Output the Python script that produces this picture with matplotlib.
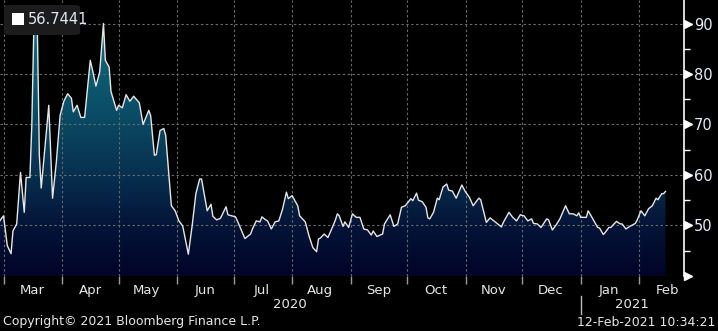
import numpy as np
import pandas as pd
import matplotlib
matplotlib.use("Agg")
import matplotlib.pyplot as plt
import matplotlib.dates as mdates
import matplotlib.transforms as mtrans
from matplotlib.colors import LinearSegmentedColormap
from matplotlib.patches import FancyBboxPatch, Rectangle

# values (vertices of the line)
dates = [
    "2020-02-28", "2020-03-01", "2020-03-03", "2020-03-05", "2020-03-06", "2020-03-08",
    "2020-03-10", "2020-03-12", "2020-03-13", "2020-03-15", "2020-03-16", "2020-03-17",
    "2020-03-18", "2020-03-19", "2020-03-20", "2020-03-21", "2020-03-25", "2020-03-27",
    "2020-03-29", "2020-03-31", "2020-04-02", "2020-04-04", "2020-04-06", "2020-04-07",
    "2020-04-09", "2020-04-11", "2020-04-13", "2020-04-14", "2020-04-16", "2020-04-17",
    "2020-04-19", "2020-04-21", "2020-04-23", "2020-04-24", "2020-04-26", "2020-04-27",
    "2020-04-30", "2020-05-01", "2020-05-03", "2020-05-05", "2020-05-07", "2020-05-09",
    "2020-05-12", "2020-05-14", "2020-05-17", "2020-05-18", "2020-05-20", "2020-05-21",
    "2020-05-23", "2020-05-25", "2020-05-26", "2020-05-29", "2020-05-31", "2020-06-02",
    "2020-06-04", "2020-06-07", "2020-06-09", "2020-06-11", "2020-06-13", "2020-06-14",
    "2020-06-17", "2020-06-19", "2020-06-20", "2020-06-22", "2020-06-24", "2020-06-27",
    "2020-06-28", "2020-07-02", "2020-07-03", "2020-07-07", "2020-07-10", "2020-07-11",
    "2020-07-13", "2020-07-15", "2020-07-16", "2020-07-18", "2020-07-19", "2020-07-21",
    "2020-07-23", "2020-07-25", "2020-07-27", "2020-07-29", "2020-07-30", "2020-08-01",
    "2020-08-04", "2020-08-05", "2020-08-08", "2020-08-10", "2020-08-12", "2020-08-14",
    "2020-08-15", "2020-08-16", "2020-08-18", "2020-08-20", "2020-08-22", "2020-08-24",
    "2020-08-25", "2020-08-26", "2020-08-28", "2020-08-29", "2020-08-31", "2020-09-02",
    "2020-09-04", "2020-09-06", "2020-09-08", "2020-09-10", "2020-09-12", "2020-09-13",
    "2020-09-15", "2020-09-18", "2020-09-19", "2020-09-22", "2020-09-24", "2020-09-26",
    "2020-09-28", "2020-09-30", "2020-10-03", "2020-10-04", "2020-10-06", "2020-10-07",
    "2020-10-09", "2020-10-11", "2020-10-12", "2020-10-13", "2020-10-15", "2020-10-17",
    "2020-10-18", "2020-10-20", "2020-10-22", "2020-10-23", "2020-10-25", "2020-10-27",
    "2020-10-30", "2020-11-01", "2020-11-03", "2020-11-05", "2020-11-08", "2020-11-09",
    "2020-11-12", "2020-11-14", "2020-11-17", "2020-11-20", "2020-11-21", "2020-11-24",
    "2020-11-26", "2020-11-28", "2020-11-30", "2020-12-02", "2020-12-04", "2020-12-06",
    "2020-12-07", "2020-12-09", "2020-12-11", "2020-12-14", "2020-12-15", "2020-12-17",
    "2020-12-19", "2020-12-21", "2020-12-24", "2020-12-26", "2020-12-28", "2020-12-30",
    "2020-12-31", "2021-01-01", "2021-01-04", "2021-01-05", "2021-01-07", "2021-01-10",
    "2021-01-11", "2021-01-13", "2021-01-14", "2021-01-16", "2021-01-17", "2021-01-20",
    "2021-01-22", "2021-01-23", "2021-01-25", "2021-01-27", "2021-01-30", "2021-01-31",
    "2021-02-02", "2021-02-04", "2021-02-06", "2021-02-08", "2021-02-10", "2021-02-11",
    "2021-02-13", "2021-02-14", "2021-02-15",
]
values = [
    50.9, 51.9, 46.0, 44.4, 48.9, 50.3,
    60.5, 52.6, 59.5, 59.5, 69.8, 87.7,
    89.7, 87.7, 63.9, 57.4, 73.8, 55.4,
    62.5, 71.8, 74.6, 76.1, 75.2, 72.5,
    73.8, 71.4, 71.4, 75.1, 82.7, 81.1,
    77.6, 80.4, 90.0, 82.7, 81.4, 76.5,
    72.8, 73.8, 73.3, 75.9, 74.6, 75.6,
    74.3, 70.0, 72.8, 71.8, 63.9, 64.0,
    68.8, 69.2, 67.8, 53.9, 52.9, 50.9,
    49.9, 44.3, 49.9, 56.3, 59.2, 59.2,
    52.9, 54.2, 51.8, 51.1, 51.4, 53.7,
    52.1, 51.7, 50.9, 47.4, 48.3, 49.3,
    50.9, 50.7, 51.7, 51.1, 50.9, 49.3,
    50.7, 50.9, 53.3, 56.6, 55.3, 55.9,
    53.9, 51.9, 50.7, 47.9, 45.6, 44.8,
    47.3, 47.5, 48.3, 47.6, 49.3, 51.1,
    52.3, 51.9, 49.8, 50.7, 49.6, 52.3,
    51.6, 51.6, 49.3, 49.1, 48.1, 48.9,
    47.8, 48.3, 50.3, 52.1, 49.8, 50.3,
    53.6, 53.9, 55.3, 54.9, 56.4, 55.0,
    54.7, 53.6, 51.5, 51.3, 52.6, 55.4,
    55.1, 57.6, 58.2, 57.0, 56.8, 55.4,
    58.0, 56.6, 55.6, 53.9, 55.4, 55.1,
    50.6, 51.5, 50.6, 49.7, 50.6, 52.6,
    51.6, 50.9, 52.1, 51.9, 50.9, 51.3,
    50.4, 50.3, 49.6, 51.3, 51.1, 49.1,
    50.1, 51.3, 53.9, 52.3, 52.3, 51.9,
    52.5, 51.6, 51.6, 52.9, 51.6, 49.6,
    49.5, 48.2, 48.6, 49.6, 49.6, 50.8,
    50.3, 50.3, 49.3, 49.8, 50.4, 51.1,
    52.9, 51.9, 53.3, 53.9, 55.4, 55.1,
    56.3, 56.3, 56.7441,
]
month_labels = ["Mar", "Apr", "May", "Jun", "Jul", "Aug", "Sep", "Oct", "Nov", "Dec", "Jan", "Feb"]
month_starts = pd.date_range("2020-03-01", "2021-02-01", freq="MS")
years = ["2020", "2021"]
y_major = [40, 50, 60, 70, 80, 90]
y_minor = [45, 55, 65, 75, 85]
last_label = "56.7441"
copyright_text = "Copyright\u00a9 2021 Bloomberg Finance L.P."
stamp_text = "12-Feb-2021 10:34:21"

NARROW = ["Liberation Sans Narrow", "DejaVu Sans"]
plt.rcParams["font.family"] = ["DejaVu Sans"]

W, H = 718, 331
fig = plt.figure(figsize=(W / 100, H / 100), dpi=100, facecolor="black")
ax = fig.add_axes([0, 1 - 275.9 / H, 684 / W, 275.9 / H])
ax.set_facecolor("black")

x = mdates.date2num(pd.to_datetime(dates))
y = np.array(values)
x0 = mdates.date2num(pd.Timestamp("2020-03-01")) - 1.86
x1 = mdates.date2num(pd.Timestamp("2020-03-01")) + 360.8
ymin, ymax = 40, 94.66
ax.set_xlim(x0, x1)
ax.set_ylim(ymin, ymax)

# gradient area fill
cmap = LinearSegmentedColormap.from_list(
    "bb", [(0.0, "#010428"), (0.2, "#041438"), (0.4, "#07304f"), (0.65, "#0a4d66"), (1.0, "#0e6e80")])
grad = np.linspace(0, 1, 256).reshape(-1, 1)
poly = ax.fill_between(x, y, ymin, facecolor="none", edgecolor="none")
im = ax.imshow(grad, extent=[x0, x1, ymin, 90], origin="lower", aspect="auto",
               cmap=cmap, zorder=1)
im.set_clip_path(poly.get_paths()[0], transform=ax.transData)
ax.set_xlim(x0, x1)
ax.set_ylim(ymin, ymax)

# grid
for v in y_major:
    ax.axhline(v, color="#6a6a6a", lw=0.8, ls=(0, (2.2, 2.2)), zorder=2)
for d in month_starts:
    ax.axvline(mdates.date2num(d), color="#6a6a6a", lw=0.8, ls=(0, (2.2, 2.2)), zorder=2)

ax.plot(x, y, color="#e6e6e6", lw=1.0, zorder=3, solid_joinstyle="round")

# axes cosmetics
for s in ["left", "top", "bottom"]:
    ax.spines[s].set_visible(False)
ax.spines["right"].set_color("white")
ax.spines["right"].set_linewidth(1.2)

ax.yaxis.tick_right()
ax.set_yticks(y_major)
ax.set_yticklabels(["" if v == 40 else str(v) for v in y_major])
ax.set_yticks(y_minor, minor=True)
ax.tick_params(axis="y", which="major", length=0, pad=7, labelsize=10.5,
               labelcolor="#e4ecf8")
ax.tick_params(axis="y", which="minor", length=4, width=1, color="white")
tri = mtrans.blended_transform_factory(ax.transAxes, ax.transData) + \
    mtrans.ScaledTranslation(3.5 / 100, 0, fig.dpi_scale_trans)
ax.plot([1] * len(y_major), y_major, ls="none", marker=">", ms=6, color="white",
        transform=tri, clip_on=False, zorder=5)

ax.set_xticks(mdates.date2num(month_starts))
ax.set_xticklabels([])
ax.set_xticks(mdates.date2num(month_starts + pd.Timedelta(days=15)), minor=True)
ax.set_xticklabels(month_labels, minor=True, family=NARROW, fontsize=9.5, color="#e6e6e6")
ax.tick_params(axis="x", which="major", length=6, width=1, color="#9a9a9a", direction="out")
ax.tick_params(axis="x", which="minor", length=0, pad=6)

# year labels and separator
split = mdates.date2num(pd.Timestamp("2021-01-01"))
yt = mtrans.blended_transform_factory(ax.transData, fig.transFigure)
ax.text((x0 + split) / 2, 1 - 305 / H, years[0], transform=yt, ha="center", va="center",
        family=NARROW, fontsize=9.5, color="#e6e6e6")
ax.text((split + x1) / 2, 1 - 305 / H, years[1], transform=yt, ha="center", va="center",
        family=NARROW, fontsize=9.5, color="#e6e6e6")
ax.plot([split, split], [1 - 296 / H, 1 - 314 / H], transform=yt, color="#bbbbbb",
        lw=1, clip_on=False)

# footer
fig.text(3 / W, 1 - 322 / H, copyright_text, ha="left", va="center",
         family=NARROW, fontsize=9, color="#e6e6e6")
fig.text(715 / W, 1 - 322 / H, stamp_text, ha="right", va="center",
         family=NARROW, fontsize=9, color="#e6e6e6")

# last value box
fig.patches.append(FancyBboxPatch((4 / W, 1 - 35 / H), 76 / W, 30 / H,
                                  boxstyle="round,pad=0,rounding_size=0.008",
                                  transform=fig.transFigure, facecolor="#1c1c1c",
                                  edgecolor="none", zorder=10))
fig.patches.append(Rectangle((12 / W, 1 - 25 / H), 12 / W, 12 / H, transform=fig.transFigure,
                             facecolor="white", edgecolor="none", zorder=11))
fig.text(28 / W, 1 - 19.5 / H, last_label, ha="left", va="center", fontsize=10.5,
         color="#dfe9f5", zorder=12)

fig.savefig("out.png", dpi=100, facecolor="black")
